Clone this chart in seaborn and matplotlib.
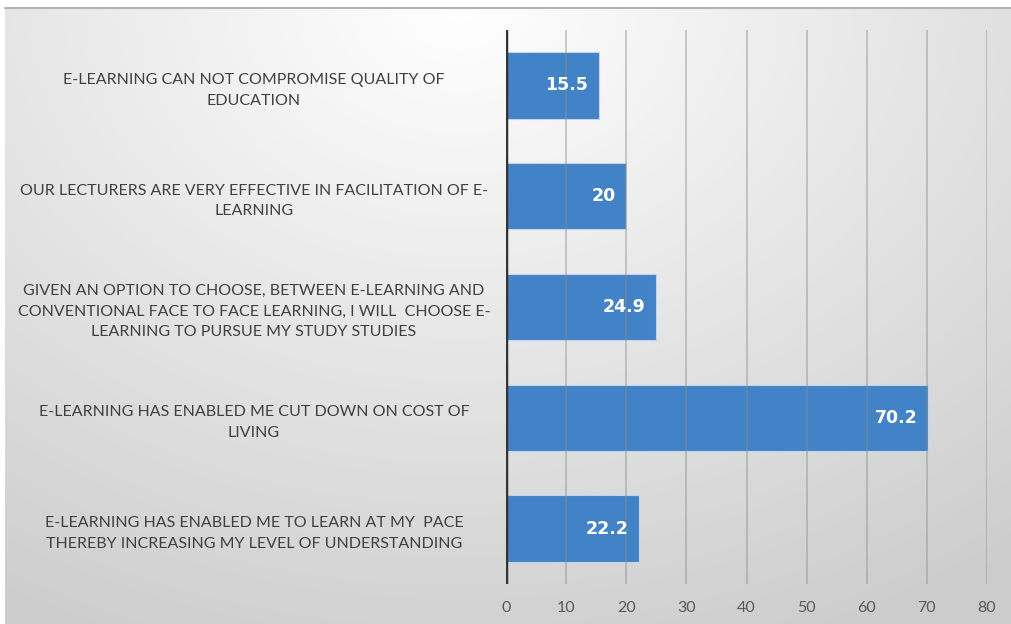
import numpy as np
import pandas as pd
import matplotlib
matplotlib.use("Agg")
import matplotlib.pyplot as plt
import seaborn as sns

statements = [
    "E-LEARNING CAN NOT COMPROMISE QUALITY OF\nEDUCATION",
    "OUR LECTURERS ARE VERY EFFECTIVE IN FACILITATION OF E-\nLEARNING",
    "GIVEN AN OPTION TO CHOOSE, BETWEEN E-LEARNING AND\nCONVENTIONAL FACE TO FACE LEARNING, I WILL  CHOOSE E-\nLEARNING TO PURSUE MY STUDY STUDIES",
    "E-LEARNING HAS ENABLED ME CUT DOWN ON COST OF\nLIVING",
    "E-LEARNING HAS ENABLED ME TO LEARN AT MY  PACE\nTHEREBY INCREASING MY LEVEL OF UNDERSTANDING",
]
percentages = [15.5, 20, 24.9, 70.2, 22.2]
x_ticks = [0, 10, 20, 30, 40, 50, 60, 70, 80]

sns.set_theme(style="white")
plt.rcParams["font.family"] = ["Lato", "DejaVu Sans"]

df = pd.DataFrame({"statement": statements, "pct": percentages})

fig = plt.figure(figsize=(10.12, 6.24), dpi=100)
fig.patch.set_facecolor("white")

# soft radial gray backdrop behind the chart
bg = fig.add_axes([0.005, 0.0, 0.995, 0.987], zorder=-10)
h, w = 300, 500
yy, xx = np.mgrid[0:h, 0:w]
cx, cy = 0.45 * w, 0.0 * h
r = np.sqrt(((xx - cx) / w) ** 2 + ((yy - cy) / h * 0.8) ** 2)
shade = np.clip(1.0 - 0.22 * r, 0.80, 1.0)
bg.imshow(np.dstack([shade, shade, shade]), aspect="auto",
          extent=[0, 1, 0, 1], origin="upper")
bg.set_axis_off()
bg.plot([0, 1], [1, 1], color="#b4b4b4", lw=1.5, transform=bg.transAxes,
        clip_on=False)

ax = fig.add_axes([0.5, 0.0641, 0.4753, 0.8878])
ax.patch.set_alpha(0)

sns.barplot(data=df, x="pct", y="statement", orient="h", color="#4282c6",
            width=0.6, edgecolor="#c2d5ec", linewidth=0.8, saturation=1,
            ax=ax, zorder=2)

ax.set_xlim(0, 80)
ax.set_xticks(x_ticks)
ax.set_xticklabels([str(t) for t in x_ticks], fontsize=11.5, color="#595959")
ax.tick_params(axis="x", length=0, pad=12)
ax.set_ylim(4.5, -0.5)
ax.tick_params(axis="y", length=0)
for lab in ax.get_yticklabels():
    lab.set_fontsize(11.5)
    lab.set_color("#404040")
    lab.set_horizontalalignment("center")
    lab.set_multialignment("center")
    lab.set_linespacing(1.6)
# center the statements in the left column
offset = matplotlib.transforms.ScaledTranslation(-252 / 100, 0, fig.dpi_scale_trans)
for lab in ax.get_yticklabels():
    lab.set_transform(ax.get_yaxis_transform(which="tick1") + offset)
ax.set_xlabel("")
ax.set_ylabel("")

# vertical gridlines drawn over the bars
for t in x_ticks[1:]:
    ax.axvline(t, color="#8c8c8c", lw=1.2, alpha=0.5, zorder=3)
ax.axvline(0, color="#333333", lw=2.5, zorder=4)

for sp in ax.spines.values():
    sp.set_visible(False)

for i, v in enumerate(percentages):
    ax.text(v - 1.8, i, f"{v:g}", ha="right", va="center", color="white",
            fontsize=12.5, fontweight="bold", zorder=5,
            family=["DejaVu Sans"])

fig.savefig("out.png", dpi=100)
